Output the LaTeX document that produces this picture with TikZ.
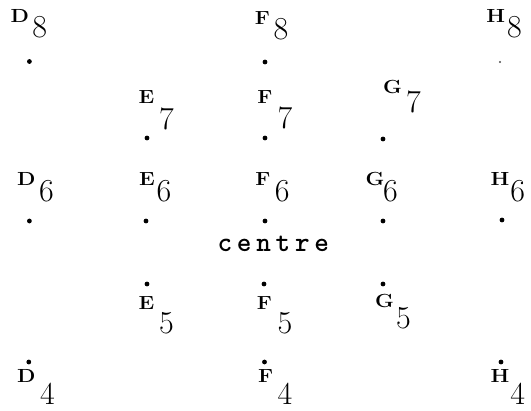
\documentclass[tikz,border=0pt]{standalone}
\usepackage{fontspec}
\usepackage{graphicx}
\newcommand{\tw}[1]{\makebox[19.4pt]{#1}}
\newcommand{\capx}[1]{\scalebox{1.12}[1]{#1}}
\tikzset{
  pt/.style={circle, fill=black, inner sep=0pt, minimum size=4.8pt},
  faintpt/.style={circle, fill=black!70, inner sep=0pt, minimum size=2.4pt},
  lett/.style={inner sep=0pt, anchor=center, font=\fontsize{19}{20}\selectfont\bfseries},
  digit/.style={inner sep=0pt, anchor=center, font=\fontsize{32}{34}\selectfont},
  word/.style={inner sep=0pt, anchor=base, font=\fontsize{27.8}{28}\selectfont\ttfamily\bfseries}
}
\begin{document}
\begin{tikzpicture}[x=1pt, y=-1pt]
\useasboundingbox (0,0) rectangle (531,411);
% dots
\node[pt] (D8) at (29.4,61.5) {};
\node[pt] (F8) at (265,62) {};
\node[faintpt] (H8) at (500,62) {};
\node[pt] (E7) at (147,138) {};
\node[pt] (F7) at (265,138) {};
\node[pt] (G7) at (383,139) {};
\node[pt] (D6) at (29.4,221) {};
\node[pt] (E6) at (146,221) {};
\node[pt] (F6) at (265,221) {};
\node[pt] (G6) at (383,221) {};
\node[pt] (H6) at (502,220) {};
\node[pt] (E5) at (147,284) {};
\node[pt] (F5) at (264,284) {};
\node[pt] (G5) at (383,284) {};
\node[pt] (D4) at (28.8,362) {};
\node[pt] (F4) at (264.5,362) {};
\node[pt] (H4) at (501,362) {};
% labels
\node[lett] (D8l) at (19.8,15.8) {\capx{D}};
\node[digit] (D8n) at (39.6,27.4) {8};
\node[lett] (F8l) at (262.5,17.8) {\capx{F}};
\node[digit] (F8n) at (281,29) {8};
\node[lett] (H8l) at (495.8,15.6) {\capx{H}};
\node[digit] (H8n) at (514.4,26.7) {8};

\node[lett] (E7l) at (146.5,97.5) {\capx{E}};
\node[digit] (E7n) at (166.5,118.5) {7};
\node[lett] (F7l) at (265,97.5) {\capx{F}};
\node[digit] (F7n) at (285,118) {7};
\node[lett] (G7l) at (392.5,87) {\capx{G}};
\node[digit] (G7n) at (413.5,101.5) {7};

\node[lett] (D6l) at (26.2,179.4) {\capx{D}};
\node[digit] (D6n) at (46.5,191.3) {6};
\node[lett] (E6l) at (147,179.4) {\capx{E}};
\node[digit] (E6n) at (164,191.3) {6};
\node[lett] (F6l) at (263,179.4) {\capx{F}};
\node[digit] (F6n) at (282.2,191.3) {6};
\node[lett] (G6l) at (375,178.5) {\capx{G}};
\node[digit] (G6n) at (390.5,191.3) {6};
\node[lett] (H6l) at (499.9,179.4) {\capx{H}};
\node[digit] (H6n) at (517.7,191.3) {6};

\node[word] (centre) at (273.3,252) {\tw{c}\tw{e}\tw{n}\tw{t}\tw{r}\tw{e}};

\node[lett] (E5l) at (146.5,303) {\capx{E}};
\node[digit] (E5n) at (166.5,323.5) {5};
\node[lett] (F5l) at (264.5,303) {\capx{F}};
\node[digit] (F5n) at (285,323.5) {5};
\node[lett] (G5l) at (384.5,301) {\capx{G}};
\node[digit] (G5n) at (403.5,318.5) {5};

\node[lett] (D4l) at (26.2,376) {\capx{D}};
\node[digit] (D4n) at (47.4,393.5) {4};
\node[lett] (F4l) at (265.6,376) {\capx{F}};
\node[digit] (F4n) at (285,393.5) {4};
\node[lett] (H4l) at (499.9,376) {\capx{H}};
\node[digit] (H4n) at (517.7,393.5) {4};
\end{tikzpicture}
\end{document}
